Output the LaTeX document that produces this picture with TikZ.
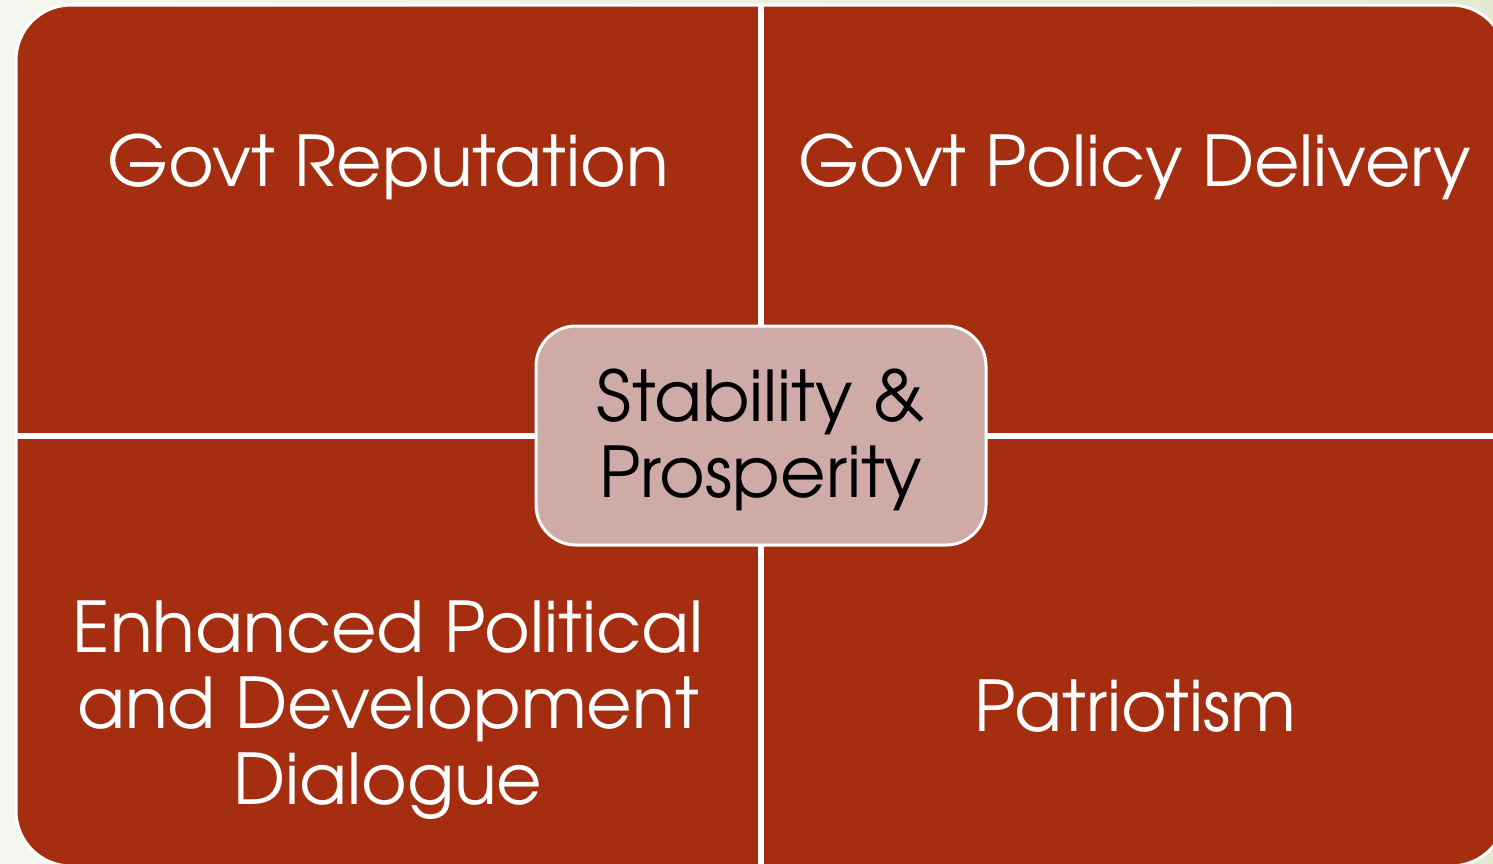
\documentclass[tikz,border=0pt]{standalone}
\usepackage{fontspec}
\setmainfont{TeX Gyre Adventor}
\definecolor{bgA}{HTML}{F4F7EF}
\definecolor{bgB}{HTML}{E3EAD1}
\definecolor{quad}{HTML}{A52E10}
\definecolor{hub}{HTML}{CFABA8}
\begin{document}
\begin{tikzpicture}[x=0.5pt,y=-0.5pt,
  cell/.style={draw=white,line width=1.5pt,fill=quad,inner sep=0pt,
    minimum width=372pt,minimum height=215.5pt},
  label/.style={text=white,font=\fontsize{35}{38}\selectfont,align=center},
  hubbox/.style={draw=white,line width=1.5pt,fill=hub,rounded corners=20pt,
    minimum width=225pt,minimum height=109.5pt,inner sep=0pt,
    font=\fontsize{35}{38}\selectfont,align=center,text=black}]
% page background
\shade[left color=bgA,right color=bgB] (0,0) rectangle (1493,863);
\useasboundingbox (0,0) rectangle (1493,863);
% four quadrants inside one rounded outline
\begin{scope}
  \clip[rounded corners=27.5pt] (16,5) rectangle (1506,866);
  \node[cell,anchor=south east] (q1) at (761,436) {};
  \node[cell,anchor=south west] (q2) at (761,436) {};
  \node[cell,anchor=north east] (q3) at (761,436) {};
  \node[cell,anchor=north west] (q4) at (761,436) {};
\end{scope}
\draw[white,line width=1.5pt,rounded corners=27.5pt] (16,5) rectangle (1506,866);
% quadrant labels
\node[label] (t1) at (388,167) {Govt Reputation};
\node[label] (t2) at (1135,167) {Govt Policy Delivery};
\node[label] (t3) at (388,710) {Enhanced Political\\[0pt]and Development\\[0pt]Dialogue};
\node[label] (t4) at (1135,706) {Patriotism};
% central hub
\node[hubbox] (hub) at (761,435.5) {};
\node[font=\fontsize{35}{38}\selectfont,align=center] (hubtext) at (761,440) {Stability \&\\[0pt]Prosperity};
\end{tikzpicture}
\end{document}
